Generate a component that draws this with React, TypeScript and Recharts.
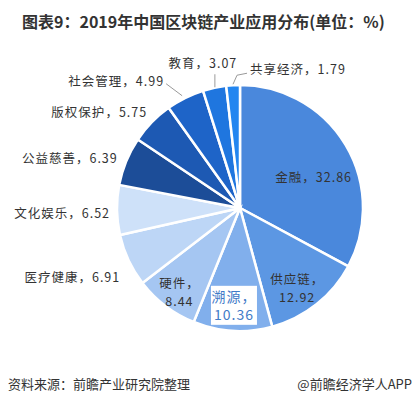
import React from 'react';
import { PieChart, Pie, Cell } from 'recharts';

const categories = ['金融', '供应链', '溯源', '硬件', '医疗健康', '文化娱乐', '公益慈善', '版权保护', '社会管理', '教育', '共享经济'];
const shares = [32.86, 12.92, 10.36, 8.44, 6.91, 6.52, 6.39, 5.75, 4.99, 3.07, 1.79];
const sliceColors = ['#4a88dc', '#5c97e3', '#81afec', '#a5c6f2', '#bdd6f6', '#cee1f9', '#1c4d98', '#1d59b3', '#1e64c8', '#1f76df', '#2386f0'];

// how each label sits: r from centre along the mid angle, then a nudge
type LabelLay = {
  r: number;
  dx: number;
  dy: number;
  anchor: 'start' | 'middle' | 'end';
  twoLines?: boolean;
  boxed?: boolean;
  leader?: [number, number][];
};

const labelLayout: LabelLay[] = [
  { r: 80, dx: 5, dy: 11, anchor: 'middle' },
  { r: 100, dx: -5, dy: 2, anchor: 'middle', twoLines: true },
  { r: 100, dx: 0, dy: -2, anchor: 'middle', twoLines: true, boxed: true },
  { r: 100, dx: 0, dy: 4, anchor: 'middle', twoLines: true },
  { r: 130, dx: -2, dy: 14, anchor: 'end' },
  { r: 130, dx: 0, dy: 3, anchor: 'end' },
  { r: 130, dx: -2, dy: 0, anchor: 'end' },
  { r: 135, dx: 4, dy: -1, anchor: 'end' },
  { r: 150, dx: -9, dy: 8, anchor: 'end', leader: [[2, 2], [18, 14]] },
  { r: 150, dx: -6, dy: 2, anchor: 'middle', leader: [[12, 11], [12, 24]] },
  { r: 142, dx: 18, dy: 3, anchor: 'start', leader: [[-3, 4], [-13, 6], [-17, 15]] },
];

const RADIAN = Math.PI / 180;
const FONT = '"Noto Sans CJK SC", "Noto Sans", sans-serif';

const data = categories.map((name, i) => ({ name, value: shares[i] }));

function renderLabel(props: any) {
  const { cx, cy, midAngle, index } = props;
  const lay = labelLayout[index];
  const x = cx + lay.r * Math.cos(-midAngle * RADIAN) + lay.dx;
  const y = cy + lay.r * Math.sin(-midAngle * RADIAN) + lay.dy;
  const name = categories[index];
  const val = shares[index].toFixed(2);
  const color = lay.boxed ? '#3f7bc8' : '#333';

  if (lay.twoLines) {
    return (
      <g key={`lb-${index}`}>
        {lay.boxed && <rect x={x - 23} y={y - 20} width={46} height={39} fill="#fff" />}
        <text x={x} y={y - 4} textAnchor="middle" fontFamily={FONT} fontSize={lay.boxed ? 14 : 12.5} fill={color} letterSpacing={1}>
          {name}，
        </text>
        <text x={x} y={y + 14} textAnchor="middle" fontFamily={FONT} fontSize={lay.boxed ? 14 : 12.5} fill={color} letterSpacing={1}>
          {val}
        </text>
      </g>
    );
  }

  return (
    <g key={`lb-${index}`}>
      {lay.leader && (
        <polyline
          points={lay.leader.map(([px, py]) => `${x + px},${y + py}`).join(' ')}
          fill="none"
          stroke="#9a9a9a"
          strokeWidth={1}
        />
      )}
      <text x={x} y={y} dy={4.5} textAnchor={lay.anchor} fontFamily={FONT} fontSize={12.5} fill={color} letterSpacing={1}>
        {name}，{val}
      </text>
    </g>
  );
}

export default function App() {
  return (
    <div style={{ position: 'absolute', left: 0, top: 0, width: 416, height: 393, background: '#fff', overflow: 'hidden' }}>
      <div
        style={{
          position: 'absolute',
          left: 22,
          top: 9,
          fontFamily: FONT,
          fontWeight: 700,
          fontSize: 16,
          color: '#333',
          whiteSpace: 'nowrap',
        }}
      >
        图表9：2019年中国区块链产业应用分布(单位：%)
      </div>
      <PieChart width={416} height={393} margin={{ top: 0, right: 0, bottom: 0, left: 0 }}>
        <Pie
          data={data}
          dataKey="value"
          nameKey="name"
          cx={240}
          cy={208}
          outerRadius={123}
          startAngle={90}
          endAngle={-270}
          stroke="#fff"
          strokeWidth={2.5}
          label={renderLabel}
          labelLine={false}
          isAnimationActive={false}
        >
          {data.map((d, i) => (
            <Cell key={d.name} fill={sliceColors[i]} />
          ))}
        </Pie>
      </PieChart>
      <div style={{ position: 'absolute', left: 8, top: 374, fontFamily: FONT, fontSize: 13, color: '#333' }}>
        资料来源：前瞻产业研究院整理
      </div>
      <div style={{ position: 'absolute', right: 4, top: 374, fontFamily: FONT, fontSize: 13, color: '#333' }}>
        @前瞻经济学人APP
      </div>
    </div>
  );
}
